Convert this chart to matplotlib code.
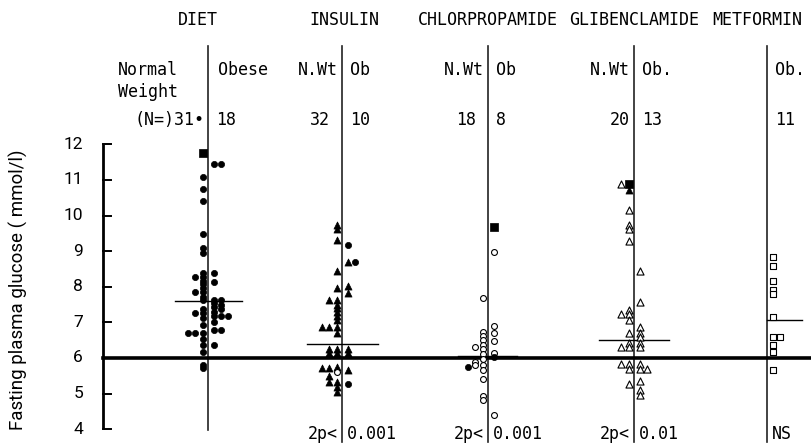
import matplotlib
matplotlib.use("Agg")
import matplotlib.pyplot as plt

plt.rcParams['font.family'] = ['DejaVu Sans Mono', 'DejaVu Sans']
SANS = ["Roboto", "DejaVu Sans"]

# ---------------- data ----------------
groups = ["DIET", "INSULIN", "CHLORPROPAMIDE", "GLIBENCLAMIDE", "METFORMIN"]
left_labels = ["Normal\nWeight", "N.Wt", "N.Wt", "N.Wt", ""]
right_labels = ["Obese", "Ob", "Ob", "Ob.", "Ob."]
left_n = ["(N=)31\u2022", "32", "18", "20", ""]
right_n = ["18", "10", "8", "13", "11"]
p_texts = ["", "2p<|0.001", "2p<|0.001", "2p<|0.01", "|NS"]
group_means = [7.6, 6.38, 6.05, 6.51, 7.07]
y_ticks = [4, 5, 6, 7, 8, 9, 10, 11, 12]
reference_level = 6.0

# marker codes: o filled circle, s filled square, ^ filled triangle,
#               O open circle, T open triangle, S open square
diet_vals = [11.77, 11.09, 10.76, 10.40, 9.47, 9.08, 8.94, 8.40, 8.28, 8.17, 8.07,
             7.96, 7.84, 7.72, 7.63, 7.39, 7.26, 7.11, 6.93, 6.69, 6.52, 6.36,
             6.17, 5.80, 5.71, 8.28, 7.86, 7.26, 6.69, 6.69,
             11.44, 11.44, 8.40, 8.14, 7.63, 7.54, 7.42, 7.30, 7.18, 7.02, 6.79,
             6.36, 7.63, 7.49, 7.37, 7.18, 6.79, 7.18]
diet_cols = [-1, -1, -1, -1, -1, -1, -1, -1, -1, -1, -1,
             -1, -1, -1, -1, -1, -1, -1, -1, -1, -1, -1,
             -1, -1, -1, -2, -2, -2, -2, -3,
             1, 2, 1, 1, 1, 1, 1, 1, 1, 1, 1,
             1, 2, 2, 2, 2, 2, 3]
diet_marks = "s" + "o" * 47

insulin_vals = [9.75, 9.62, 9.31, 8.43, 7.96, 7.63, 7.50, 7.40, 7.28, 7.18, 7.08,
                6.88, 6.69, 6.24, 6.13, 5.76, 5.33, 5.19, 5.05, 5.60,
                7.63, 6.88, 6.24, 6.13, 5.72, 5.50, 5.33, 6.88, 5.72,
                9.17, 8.69, 8.69, 8.02, 7.83, 6.24, 6.13, 5.66, 5.27]
insulin_cols = [-1, -1, -1, -1, -1, -1, -1, -1, -1, -1, -1,
                -1, -1, -1, -1, -1, -1, -1, -1, -1,
                -2, -2, -2, -2, -2, -2, -2, -3, -3,
                1, 1, 2, 1, 1, 1, 1, 1, 1]
insulin_marks = "^" * 19 + "O" + "^" * 9 + "o^o^^^^^o"

chlor_vals = [7.69, 6.74, 6.62, 6.51, 6.37, 6.24, 6.11, 5.96, 5.80, 5.66, 5.41,
              4.93, 4.82, 6.32, 5.89, 5.80, 5.76,
              9.69, 8.99, 6.90, 6.69, 6.48, 6.15, 4.40, 6.04]
chlor_cols = [-1, -1, -1, -1, -1, -1, -1, -1, -1, -1, -1,
              -1, -1, -2, -2, -2, -3,
              1, 1, 1, 1, 1, 1, 1, 1]
chlor_marks = "O" * 16 + "o" + "s" + "O" * 6 + "o"

glib_vals = [10.89, 10.72, 10.16, 9.74, 9.62, 9.29, 7.35, 7.24, 7.07, 6.69, 6.41,
             6.30, 5.83, 5.68, 5.27, 10.89, 7.24, 6.30, 5.83,
             8.45, 7.58, 6.88, 6.69, 6.60, 6.41, 6.30, 5.83, 5.68, 5.36, 5.10,
             4.96, 5.68]
glib_cols = [-1, -1, -1, -1, -1, -1, -1, -1, -1, -1, -1,
             -1, -1, -1, -1, -2, -2, -2, -2,
             1, 1, 1, 1, 1, 1, 1, 1, 1, 1, 1,
             1, 2]
glib_marks = "s^" + "T" * 30

metformin_vals = [8.85, 8.59, 8.17, 7.91, 7.80, 7.16, 6.60, 6.37, 6.18, 5.66, 6.60]
metformin_cols = [1, 1, 1, 1, 1, 1, 1, 1, 1, 1, 2]
metformin_marks = "S" * 11

series = [(diet_vals, diet_cols, diet_marks),
          (insulin_vals, insulin_cols, insulin_marks),
          (chlor_vals, chlor_cols, chlor_marks),
          (glib_vals, glib_cols, glib_marks),
          (metformin_vals, metformin_cols, metformin_marks)]

# ---------------- layout ----------------
W, H = 811, 446
Y6, PPU = 358.0, 35.6          # pixel row of 6 mmol/l, pixels per unit


def V(py):
    return reference_level + (Y6 - py) / PPU


dividers = [208, 342, 488, 634, 767]
divider_bottom = [430, 442, 442, 442, 442]
mean_extent = [(-33, 34), (-35, 36), (-30, 29), (-35, 35), (0, 35)]
header_x = [198, 344, 488, 634, 757]
COL_STEP = 7.2

style = {
    "o": dict(marker="o", s=20, facecolor="black", edgecolor="black", linewidths=0.5),
    "s": dict(marker="s", s=26, facecolor="black", edgecolor="black", linewidths=0.5),
    "^": dict(marker="^", s=26, facecolor="black", edgecolor="black", linewidths=0.5),
    "O": dict(marker="o", s=18, facecolor="white", edgecolor="black", linewidths=0.8),
    "T": dict(marker="^", s=26, facecolor="white", edgecolor="black", linewidths=0.8),
    "S": dict(marker="s", s=20, facecolor="white", edgecolor="black", linewidths=0.8),
}

fig = plt.figure(figsize=(W / 100, H / 100), dpi=100)
ax = fig.add_axes([0, 0, 1, 1])
ax.set_xlim(0, W)
ax.set_ylim(V(H), V(0))
ax.axis("off")

# y axis
ax.plot([103, 103], [y_ticks[0], y_ticks[-1]], color="black", lw=2.0, solid_capstyle="butt")
for t in y_ticks:
    ax.plot([103, 111], [t, t], color="black", lw=1.4)
    ax.text(83, t, str(t), ha="right", va="center", fontsize=12.5, family=SANS)
ax.text(18, V(290), "Fasting plasma glucose ( mmol/l)", rotation=90,
        ha="center", va="center", fontsize=13.5, family=SANS)

# reference line at 6 mmol/l
ax.plot([103, W], [reference_level, reference_level], color="black", lw=2.6, zorder=4)

# dividers, means, points
for i, (vals, cols, marks) in enumerate(series):
    d = dividers[i]
    ax.plot([d, d], [V(46), V(divider_bottom[i])], color="#222222", lw=1.2, zorder=2)
    lo, hi = mean_extent[i]
    ax.plot([d + lo, d + hi], [group_means[i], group_means[i]], color="black", lw=1.0, zorder=3)
    for code in set(marks):
        xs = []
        ys = []
        for v, c, m in zip(vals, cols, marks):
            if m != code:
                continue
            sign = 1 if c > 0 else -1
            xs.append(d + sign * (5.5 + (abs(c) - 1) * COL_STEP))
            ys.append(v)
        ax.scatter(xs, ys, zorder=5, **style[code])

    # headers
    ax.text(header_x[i], V(20), groups[i], ha="center", va="center", fontsize=12)
    if left_labels[i]:
        if "\n" in left_labels[i]:
            top, bottom = left_labels[i].split("\n")
            ax.text(118, V(70), top, ha="left", va="center", fontsize=12)
            ax.text(118, V(92), bottom, ha="left", va="center", fontsize=12)
        else:
            ax.text(d - 4, V(70), left_labels[i], ha="right", va="center", fontsize=12)
    ax.text(d + (10 if i == 0 else 8), V(70), right_labels[i], ha="left", va="center", fontsize=12)
    if left_n[i]:
        ax.text(d - (4 if i in (0, 3) else 12), V(120), left_n[i], ha="right", va="center", fontsize=12)
    ax.text(d + 8, V(120), right_n[i], ha="left", va="center", fontsize=12)
    if p_texts[i]:
        lp, rp = p_texts[i].split("|")
        if lp:
            ax.text(d - 4, V(434), lp, ha="right", va="center", fontsize=12)
        ax.text(d + 5, V(434), rp, ha="left", va="center", fontsize=12)

fig.savefig("out.png", dpi=100)
